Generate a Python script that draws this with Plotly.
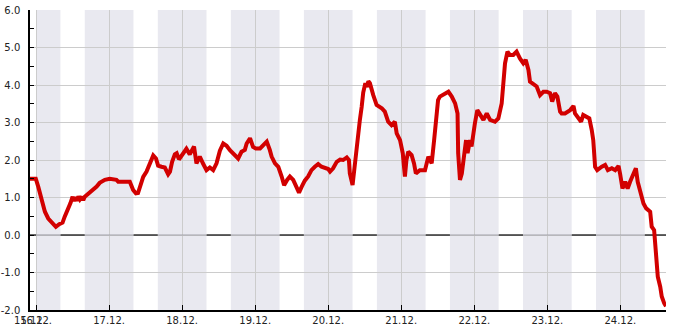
import pandas as pd
import plotly.graph_objects as go

# ---- data ----
base_date = "2023-12-16 00:00"
hours = [-2.1, -0.1, 0.7, 1.8, 2.9, 4.0, 5.1, 6.5, 7.6, 8.7, 9.4, 10.5, 11.3, 12.0, 12.4, 12.7,
         13.4, 13.9, 14.4, 15.0, 15.5, 16.0, 17.4, 18.7, 19.9, 20.9, 22.6, 24.2, 26.4, 27.0,
         30.8, 31.9, 32.8, 33.5, 34.1, 35.2, 36.3, 36.8, 37.9, 38.5, 39.4, 40.1, 41.2, 42.3,
         43.4, 44.0, 44.7, 45.6, 46.2, 46.8, 47.2, 48.3, 49.4, 50.5, 51.2, 51.9, 52.7, 53.2,
         53.8, 54.9, 56.0, 57.1, 58.2, 59.3, 60.4, 61.5, 62.6, 63.7, 65.3, 66.4, 67.5, 68.6,
         69.2, 70.3, 71.3, 72.2, 73.6, 74.6, 75.8, 76.8, 77.4, 78.5, 79.6, 80.7, 81.5, 82.5,
         83.4, 84.5, 85.6, 86.4, 87.3, 88.3, 89.4, 90.5, 91.6, 92.7, 93.8, 94.9, 96.0, 96.6,
         97.6, 98.8, 99.9, 100.9, 102.1, 102.8, 103.1, 104.0, 104.5, 105.3, 105.9, 106.4,
         107.0, 107.5, 108.2, 108.7, 109.2, 109.7, 110.8, 111.9, 113.6, 114.6, 115.7, 116.8,
         117.9, 118.5, 119.6, 120.5, 121.2, 121.7, 122.3, 123.4, 124.2, 124.8, 126.1, 127.8,
         128.9, 130.0, 130.8, 131.6, 132.1, 132.7, 134.4, 135.5, 136.6, 137.7, 138.5, 138.7,
         139.3, 139.9, 140.6, 141.3, 141.8, 142.6, 143.1, 143.7, 144.2, 145.0, 145.9, 147.0,
         148.1, 149.2, 150.8, 151.9, 153.0, 153.5, 154.1, 154.9, 155.7, 156.8, 157.9, 159.0,
         160.1, 160.9, 161.8, 162.3, 163.4, 164.5, 165.6, 166.7, 167.8, 168.9, 169.6, 170.5,
         171.3, 172.2, 172.7, 173.8, 175.5, 176.6, 177.1, 178.2, 179.1, 179.8, 181.0, 181.8,
         182.6, 183.1, 183.7, 184.4, 185.9, 187.0, 187.9, 189.2, 190.3, 191.4, 191.9, 192.7,
         193.6, 194.4, 195.2, 196.3, 197.1, 197.7, 198.5, 199.6, 200.5, 201.8, 202.3, 203.1,
         203.7, 204.3, 205.1, 205.6, 206.4, 207.0]
values = [1.50, 1.50, 1.29, 0.93, 0.62, 0.44, 0.33, 0.22, 0.29, 0.33, 0.49, 0.67, 0.85, 1.02, 0.90, 1.00,
          0.92, 1.03, 0.95, 1.02, 0.93, 1.02, 1.11, 1.20, 1.29, 1.39, 1.47, 1.50, 1.47, 1.42,
          1.42, 1.20, 1.11, 1.12, 1.29, 1.55, 1.69, 1.80, 2.05, 2.12, 2.04, 1.85, 1.82, 1.80,
          1.62, 1.69, 1.95, 2.15, 2.18, 2.05, 2.04, 2.18, 2.30, 2.15, 2.25, 2.36, 1.91, 2.00,
          2.09, 1.90, 1.73, 1.80, 1.73, 1.91, 2.25, 2.44, 2.38, 2.26, 2.13, 2.04, 2.22, 2.27,
          2.44, 2.58, 2.35, 2.31, 2.31, 2.40, 2.49, 2.27, 2.09, 1.91, 1.82, 1.56, 1.33, 1.47,
          1.56, 1.47, 1.24, 1.13, 1.29, 1.45, 1.56, 1.73, 1.82, 1.89, 1.82, 1.78, 1.76, 1.69,
          1.78, 1.95, 2.01, 2.00, 2.07, 2.00, 1.64, 1.33, 1.73, 2.18, 2.62, 3.07,
          3.42, 3.80, 4.05, 3.95, 4.10, 4.05, 3.73, 3.47, 3.38, 3.29, 3.02, 2.93,
          3.02, 2.71, 2.53, 2.18, 1.56, 2.00, 2.22, 2.13, 1.91, 1.64, 1.73, 1.73,
          2.09, 1.91, 2.53, 3.33, 3.60, 3.69, 3.78, 3.82, 3.69, 3.51, 3.24, 2.18,
          1.47, 1.64, 2.09, 2.53, 2.18, 2.53, 2.36, 2.80, 2.98, 3.33, 3.20, 3.07,
          3.24, 3.07, 3.02, 3.11, 3.51, 3.96, 4.58, 4.89, 4.80, 4.80, 4.89, 4.71,
          4.58, 4.67, 4.40, 4.09, 4.04, 3.96, 3.73, 3.82, 3.82, 3.78, 3.56, 3.78,
          3.69, 3.29, 3.24, 3.24, 3.33, 3.44, 3.24, 3.11, 3.02, 3.20, 3.16, 3.11,
          2.80, 2.53, 1.82, 1.73, 1.82, 1.87, 1.73, 1.78, 1.73, 1.84, 1.64, 1.24,
          1.42, 1.24, 1.42, 1.64, 1.78, 1.42, 1.15, 0.84, 0.71, 0.62, 0.22, 0.13,
          -0.49, -1.11, -1.38, -1.64, -1.82, -1.90]

tick_dates = ["2023-12-15 22:00", "2023-12-16", "2023-12-17", "2023-12-18", "2023-12-19",
              "2023-12-20", "2023-12-21", "2023-12-22", "2023-12-23", "2023-12-24"]
tick_labels = ["15.12.", "16.12.", "17.12.", "18.12.", "19.12.",
               "20.12.", "21.12.", "22.12.", "23.12.", "24.12."]
y_ticks = [-2, -1, 0, 1, 2, 3, 4, 5, 6]
y_labels = ["-2.0", "-1.0", "0.0", "1.0", "2.0", "3.0", "4.0", "5.0", "6.0"]

# shaded night bands (start, end)
band_starts = ["2023-12-16 00:00", "2023-12-16 16:00", "2023-12-17 16:00", "2023-12-18 16:00",
               "2023-12-19 16:00", "2023-12-20 16:00", "2023-12-21 16:00", "2023-12-22 16:00",
               "2023-12-23 16:00"]
band_ends = ["2023-12-16 08:00", "2023-12-17 08:00", "2023-12-18 08:00", "2023-12-19 08:00",
             "2023-12-20 08:00", "2023-12-21 08:00", "2023-12-22 08:00", "2023-12-23 08:00",
             "2023-12-24 08:00"]

x_start = "2023-12-15 22:00"
x_end = "2023-12-24 15:00"

# ---- build ----
t0 = pd.Timestamp(base_date)
times = [t0 + pd.Timedelta(hours=h) for h in hours]

fig = go.Figure()
fig.add_trace(go.Scatter(x=times, y=values, mode="lines",
                         line=dict(color="#d20000", width=4), hoverinfo="skip"))

shapes = []
for s, e in zip(band_starts, band_ends):
    shapes.append(dict(type="rect", xref="x", yref="paper", x0=s, x1=e, y0=0, y1=1,
                       fillcolor="#e9e9f0", line=dict(width=0), layer="below"))

# zero line: black over day periods, greyed over night bands
day_starts = [x_start] + band_ends
day_ends = band_starts + [x_end]
for s, e in zip(day_starts, day_ends):
    shapes.append(dict(type="line", xref="x", yref="y", x0=s, x1=e, y0=0, y1=0,
                       line=dict(color="black", width=1.2), layer="between"))
for s, e in zip(band_starts, band_ends):
    shapes.append(dict(type="line", xref="x", yref="y", x0=s, x1=e, y0=0, y1=0,
                       line=dict(color="#a2a2aa", width=1.2), layer="between"))

font = dict(family="DejaVu Sans", size=10, color="#222222")
fig.update_layout(
    width=685, height=330,
    margin=dict(l=30, r=19, t=10, b=20, autoexpand=False),
    paper_bgcolor="white", plot_bgcolor="white",
    showlegend=False,
    shapes=shapes,
    font=font,
    xaxis=dict(type="date", range=[x_start, x_end], tickmode="array",
               tickvals=tick_dates, ticktext=tick_labels, tickangle=0,
               automargin=False,
               showgrid=True, gridcolor="#cccccc", gridwidth=1,
               showline=True, linecolor="black", linewidth=1.5,
               ticks="inside", ticklen=5, tickcolor="black", tickfont=font,
               zeroline=False),
    yaxis=dict(range=[-2, 6], tickmode="array", tickvals=y_ticks, ticktext=y_labels,
               automargin=False,
               showgrid=True, gridcolor="#cccccc", gridwidth=1,
               showline=True, linecolor="black", linewidth=1.5,
               ticks="inside", ticklen=4, tickcolor="black", tickfont=font,
               ticklabelstandoff=6,
               minor=dict(tickmode="linear", tick0=0, dtick=0.5, ticks="inside",
                          ticklen=4, tickcolor="black", showgrid=False),
               zeroline=False),
)

fig.write_html("out.html")
